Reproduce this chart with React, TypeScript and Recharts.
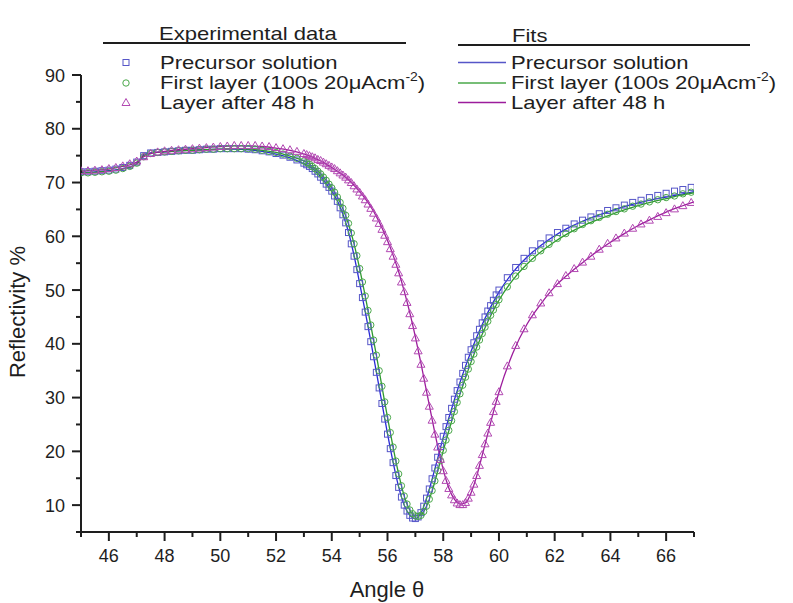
import React from "react";
import { ComposedChart, Scatter, Line, XAxis, YAxis } from "recharts";

// measured angles (deg) shared by the three experimental scans
const ANGLES = [
  45, 45.25, 45.5, 45.75, 46, 46.25, 46.5, 46.75, 47, 47.25, 47.5, 47.75, 48, 48.25, 48.5, 48.75,
  49, 49.25, 49.5, 49.75, 50, 50.25, 50.5, 50.75, 51, 51.25, 51.5, 51.75, 52, 52.25, 52.5, 52.75, 53,
  53.1, 53.2, 53.3, 53.4, 53.5, 53.6, 53.7, 53.8, 53.9, 54,
  54.1, 54.2, 54.3, 54.4, 54.5, 54.6, 54.7, 54.8, 54.9, 55,
  55.1, 55.2, 55.3, 55.4, 55.5, 55.6, 55.7, 55.8, 55.9, 56,
  56.1, 56.2, 56.3, 56.4, 56.5, 56.6, 56.7, 56.8, 56.9, 57,
  57.1, 57.2, 57.3, 57.4, 57.5, 57.6, 57.7, 57.8, 57.9, 58,
  58.1, 58.2, 58.3, 58.4, 58.5, 58.6, 58.7, 58.8, 58.9, 59,
  59.1, 59.2, 59.3, 59.4, 59.5, 59.6, 59.7, 59.8, 59.9, 60,
  60.3, 60.6, 60.9, 61.2, 61.5, 61.8, 62.1, 62.4, 62.7, 63, 63.3, 63.6, 63.9, 64.2, 64.5, 64.8,
  65.1, 65.4, 65.7, 66, 66.3, 66.6, 66.9,
];

const PRECURSOR = [
  72.0, 72.0, 72.1, 72.2, 72.3, 72.5, 72.8, 73.2, 73.8, 75.0, 75.5, 75.6, 75.7, 75.8, 75.9, 76.0,
  76.0, 76.1, 76.2, 76.2, 76.3, 76.3, 76.3, 76.3, 76.2, 76.1, 75.9, 75.7, 75.4, 75.1, 74.7, 74.2, 73.6,
  73.3, 73.0, 72.6, 72.1, 71.6, 71.0, 70.4, 69.7, 69.1, 68.4,
  67.5, 66.5, 65.3, 64.0, 62.5, 60.7, 58.6, 56.3, 53.8, 51.2,
  48.6, 45.9, 43.2, 40.4, 37.6, 34.7, 31.8, 28.9, 26.0, 23.2,
  20.5, 17.9, 15.5, 13.3, 11.5, 10.0, 8.9, 8.1, 7.6, 7.5,
  7.8, 8.6, 9.8, 11.3, 13.0, 14.9, 16.9, 18.9, 20.9, 22.8,
  24.6, 26.3, 28.0, 29.7, 31.3, 32.9, 34.5, 36.0, 37.5, 38.9,
  40.2, 41.5, 42.7, 43.9, 45.0, 46.1, 47.1, 48.1, 49.1, 50.0,
  52.3, 54.2, 55.9, 57.3, 58.6, 59.7, 60.7, 61.5, 62.3, 63.0, 63.6, 64.2, 64.8, 65.3, 65.8, 66.3,
  66.7, 67.2, 67.6, 68.0, 68.4, 68.7, 69.1,
];

const FIRST_LAYER = [
  71.8, 71.8, 71.9, 72.0, 72.1, 72.3, 72.6, 73.0, 73.6, 74.8, 75.4, 75.6, 75.7, 75.8, 75.9, 76.0,
  76.0, 76.1, 76.2, 76.2, 76.3, 76.3, 76.3, 76.3, 76.3, 76.2, 76.0, 75.8, 75.6, 75.3, 74.9, 74.5, 74.0,
  73.7, 73.4, 73.0, 72.6, 72.1, 71.6, 71.0, 70.4, 69.7, 69.0,
  68.2, 67.3, 66.3, 65.2, 63.9, 62.4, 60.6, 58.6, 56.4, 54.0,
  51.5, 48.9, 46.2, 43.5, 40.7, 37.9, 35.0, 32.1, 29.2, 26.3,
  23.5, 20.8, 18.2, 15.8, 13.6, 11.7, 10.2, 9.1, 8.4, 8.0,
  7.9, 8.1, 8.8, 9.8, 11.1, 12.7, 14.5, 16.4, 18.3, 20.2,
  22.1, 23.9, 25.7, 27.4, 29.1, 30.7, 32.3, 33.8, 35.3, 36.7,
  38.1, 39.4, 40.7, 41.9, 43.1, 44.2, 45.3, 46.3, 47.3, 48.2,
  50.6, 52.6, 54.4, 55.9, 57.3, 58.5, 59.6, 60.5, 61.4, 62.2, 62.9, 63.5, 64.1, 64.6, 65.1, 65.6,
  66.0, 66.4, 66.8, 67.2, 67.5, 67.9, 68.2,
];

const AFTER_48H = [
  72.2, 72.2, 72.3, 72.4, 72.6, 72.8, 73.1, 73.5, 74.0, 74.8, 75.4, 75.7, 75.9, 76.0, 76.1, 76.2,
  76.3, 76.4, 76.5, 76.6, 76.7, 76.8, 76.9, 76.9, 76.9, 76.9, 76.8, 76.7, 76.5, 76.3, 76.1, 75.8, 75.4,
  75.2, 75.0, 74.8, 74.6, 74.3, 74.1, 73.8, 73.5, 73.2, 72.9,
  72.6, 72.2, 71.8, 71.4, 71.0, 70.5, 70.0, 69.4, 68.8, 68.2,
  67.5, 66.8, 66.0, 65.2, 64.3, 63.4, 62.4, 61.3, 60.2, 59.0,
  57.7, 56.3, 54.8, 53.2, 51.5, 49.7, 47.7, 45.6, 43.4, 41.1,
  38.7, 36.2, 33.6, 31.0, 28.4, 25.8, 23.2, 20.8, 18.5, 16.4,
  14.6, 13.1, 11.9, 11.0, 10.4, 10.1, 10.1, 10.5, 11.3, 12.4,
  13.9, 15.5, 17.4, 19.4, 21.4, 23.4, 25.4, 27.4, 29.3, 31.1,
  35.9, 39.7, 42.8, 45.4, 47.6, 49.5, 51.2, 52.7, 54.0, 55.2, 56.3, 57.6, 58.7, 59.7, 60.6, 61.5,
  62.3, 63.0, 63.7, 64.4, 65.1, 65.7, 66.3,
];

// fitted curves
const FIT_ANGLES = [
  45, 45.5, 46, 46.5, 47, 47.25, 47.5, 48, 48.5, 49, 49.5, 50, 50.5, 51, 51.5, 52, 52.5, 53,
  53.2, 53.4, 53.6, 53.8, 54, 54.2, 54.4, 54.6, 54.8, 55, 55.2, 55.4, 55.6, 55.8, 56,
  56.2, 56.4, 56.6, 56.8, 57, 57.2, 57.4, 57.6, 57.8, 58, 58.2, 58.4, 58.6, 58.8, 59,
  59.2, 59.4, 59.6, 59.8, 60,
  60.5, 61, 61.5, 62, 62.5, 63, 63.5, 64, 64.5, 65, 65.5, 66, 66.5, 67,
];

const FIT_PRECURSOR = [
  71.9, 72.0, 72.2, 72.6, 73.5, 75.2, 75.5, 75.7, 75.9, 76.0, 76.1, 76.2, 76.2, 76.1, 75.8, 75.3, 74.6, 73.5,
  73.0, 72.2, 71.1, 69.8, 68.4, 66.6, 64.1, 60.8, 56.4, 51.3, 46.0, 40.5, 34.8, 29.0, 23.3,
  18.0, 13.4, 10.0, 8.1, 7.5, 8.5, 11.2, 14.8, 18.7, 22.6, 26.2, 29.6, 32.8, 35.8, 38.6,
  41.2, 43.6, 45.8, 47.8, 49.6,
  53.3, 56.1, 58.3, 60.1, 61.6, 62.8, 63.8, 64.7, 65.5, 66.2, 66.8, 67.3, 67.8, 68.3,
];

const FIT_FIRST_LAYER = [
  71.8, 71.9, 72.1, 72.5, 73.4, 75.0, 75.4, 75.7, 75.9, 76.0, 76.1, 76.2, 76.3, 76.2, 76.0, 75.6, 74.9, 74.0,
  73.4, 72.6, 71.6, 70.4, 69.0, 67.3, 65.1, 62.3, 58.6, 54.0, 48.9, 43.5, 37.9, 32.1, 26.3,
  20.8, 15.8, 11.7, 9.1, 8.0, 8.2, 9.8, 12.6, 16.3, 20.1, 23.8, 27.3, 30.6, 33.7, 36.6,
  39.3, 41.8, 44.1, 46.2, 48.1,
  51.9, 54.8, 57.1, 59.0, 60.6, 61.9, 63.0, 64.0, 64.9, 65.7, 66.4, 67.0, 67.6, 68.1,
];

const FIT_AFTER_48H = [
  72.1, 72.3, 72.5, 73.0, 73.8, 74.8, 75.4, 75.8, 76.1, 76.3, 76.5, 76.7, 76.8, 76.8, 76.7, 76.4, 76.0, 75.3,
  74.9, 74.5, 74.0, 73.4, 72.8, 72.1, 71.4, 70.5, 69.5, 68.3, 67.0, 65.5, 63.7, 61.6, 59.2,
  56.5, 53.4, 49.8, 45.8, 41.3, 36.4, 31.2, 26.0, 21.0, 16.6, 13.2, 11.1, 10.2, 10.4, 12.3,
  15.4, 19.3, 23.3, 27.3, 31.0,
  38.3, 43.6, 47.4, 50.6, 53.0, 55.1, 57.1, 58.9, 60.5, 62.0, 63.3, 64.5, 65.5, 66.4,
];

const X_TICKS = [45, 46, 47, 48, 49, 50, 51, 52, 53, 54, 55, 56, 57, 58, 59, 60, 61, 62, 63, 64, 65, 66, 67];
const Y_TICKS = [5, 10, 15, 20, 25, 30, 35, 40, 45, 50, 55, 60, 65, 70, 75, 80, 85, 90];

const BLUE_MK = "#5656c8";
const GREEN_MK = "#4aa84a";
const PURPLE_MK = "#b248b2";
const BLUE = "#2a2ad6";
const GREEN = "#2f9a2f";
const PURPLE = "#9c1c9c";
const INK = "#1e1e1e";
const FONT = '"Liberation Sans", Arial, sans-serif';

const pts = (xs: number[], ys: number[]) => xs.map((x, i) => ({ x, y: ys[i] }));

const Square = (p: any) => (
  <rect x={p.cx - 3} y={p.cy - 3} width={6} height={6} fill="none" stroke={BLUE_MK} strokeWidth={1} />
);
const Ring = (p: any) => (
  <circle cx={p.cx} cy={p.cy} r={3.2} fill="none" stroke={GREEN_MK} strokeWidth={1} />
);
const Tri = (p: any) => (
  <path
    d={`M${p.cx},${p.cy - 4} L${p.cx + 4},${p.cy + 3} L${p.cx - 4},${p.cy + 3} Z`}
    fill="none"
    stroke={PURPLE_MK}
    strokeWidth={1}
  />
);

const XTick = ({ x, y, payload }: any) => {
  const major = payload.value % 2 === 0;
  return (
    <g>
      <line x1={x} x2={x} y1={y} y2={y + (major ? 9 : 5)} stroke={INK} strokeWidth={2} />
      {major && (
        <text x={x} y={y + 30} textAnchor="middle" fontSize={18} fontFamily={FONT} fill={INK}>
          {payload.value}
        </text>
      )}
    </g>
  );
};

const YTick = ({ x, y, payload }: any) => {
  const major = payload.value % 10 === 0;
  return (
    <g>
      <line x1={x - (major ? 9 : 5)} x2={x} y1={y} y2={y} stroke={INK} strokeWidth={2} />
      {major && (
        <text x={x - 16} y={y + 6.5} textAnchor="end" fontSize={18} fontFamily={FONT} fill={INK}>
          {payload.value}
        </text>
      )}
    </g>
  );
};

const Sup = () => (
  <span style={{ fontSize: 12, position: "relative", top: -8 }}>-2</span>
);

const legendText: React.CSSProperties = {
  position: "absolute",
  fontSize: 19,
  fontFamily: FONT,
  color: INK,
  whiteSpace: "nowrap",
  lineHeight: "20px",
  transform: "scaleX(1.16)",
  transformOrigin: "left center",
};

const axisTitle: React.CSSProperties = {
  position: "absolute",
  fontSize: 22,
  fontFamily: FONT,
  color: INK,
  whiteSpace: "nowrap",
  lineHeight: "24px",
};

const ROWS = [62.5, 83, 102.5];

export default function App() {
  return (
    <div style={{ position: "absolute", left: 0, top: 0, width: 793, height: 603, background: "#fff" }}>
      <ComposedChart width={793} height={603} margin={{ top: 75, right: 99, bottom: 11, left: 0 }}>
        <XAxis
          type="number"
          dataKey="x"
          domain={[45, 67]}
          ticks={X_TICKS}
          interval={0}
          tick={<XTick />}
          tickLine={false}
          tickSize={0}
          tickMargin={0}
          height={60}
          axisLine={{ stroke: INK, strokeWidth: 2 }}
          allowDataOverflow
        />
        <YAxis
          type="number"
          dataKey="y"
          domain={[5, 90]}
          ticks={Y_TICKS}
          interval={0}
          tick={<YTick />}
          tickLine={false}
          tickSize={0}
          tickMargin={0}
          width={81}
          axisLine={{ stroke: INK, strokeWidth: 2 }}
          allowDataOverflow
        />
        <Scatter data={pts(ANGLES, PRECURSOR)} dataKey="y" shape={Square} isAnimationActive={false} />
        <Scatter data={pts(ANGLES, FIRST_LAYER)} dataKey="y" shape={Ring} isAnimationActive={false} />
        <Scatter data={pts(ANGLES, AFTER_48H)} dataKey="y" shape={Tri} isAnimationActive={false} />
        <Line data={pts(FIT_ANGLES, FIT_PRECURSOR)} dataKey="y" type="monotone" stroke={BLUE} strokeWidth={1.3} dot={false} isAnimationActive={false} />
        <Line data={pts(FIT_ANGLES, FIT_FIRST_LAYER)} dataKey="y" type="monotone" stroke={GREEN} strokeWidth={1.3} dot={false} isAnimationActive={false} />
        <Line data={pts(FIT_ANGLES, FIT_AFTER_48H)} dataKey="y" type="monotone" stroke={PURPLE} strokeWidth={1.3} dot={false} isAnimationActive={false} />
      </ComposedChart>

      {/* axis titles */}
      <div style={{ ...axisTitle, left: 387, top: 578, transform: "translateX(-50%)" }}>
        Angle θ
      </div>
      <div
        style={{
          ...axisTitle,
          left: 18,
          top: 312,
          transform: "translate(-50%, -50%) rotate(-90deg)",
        }}
      >
        Reflectivity %
      </div>

      {/* legend: experimental data */}
      <div style={{ ...legendText, left: 159, top: 24 }}>Experimental data</div>
      <div style={{ position: "absolute", left: 103, top: 42, width: 303, height: 1.5, background: INK }} />
      <svg style={{ position: "absolute", left: 0, top: 0 }} width={793} height={140}>
        <Square cx={126} cy={ROWS[0]} />
        <Ring cx={126} cy={ROWS[1]} />
        <Tri cx={126} cy={ROWS[2]} />
        <line x1={458} x2={506} y1={ROWS[0]} y2={ROWS[0]} stroke={BLUE_MK} strokeWidth={1.5} />
        <line x1={458} x2={506} y1={ROWS[1]} y2={ROWS[1]} stroke={GREEN_MK} strokeWidth={1.5} />
        <line x1={458} x2={506} y1={ROWS[2]} y2={ROWS[2]} stroke={PURPLE} strokeWidth={1.5} />
      </svg>
      <div style={{ ...legendText, left: 160, top: ROWS[0] - 10 }}>Precursor solution</div>
      <div style={{ ...legendText, left: 160, top: ROWS[1] - 10 }}>
        First layer (100s 20μAcm<Sup />)
      </div>
      <div style={{ ...legendText, left: 160, top: ROWS[2] - 10 }}>Layer after 48 h</div>

      {/* legend: fits */}
      <div style={{ ...legendText, left: 512, top: 26 }}>Fits</div>
      <div style={{ position: "absolute", left: 458, top: 44, width: 292, height: 1.5, background: INK }} />
      <div style={{ ...legendText, left: 511, top: ROWS[0] - 10 }}>Precursor solution</div>
      <div style={{ ...legendText, left: 511, top: ROWS[1] - 10 }}>
        First layer (100s 20μAcm<Sup />)
      </div>
      <div style={{ ...legendText, left: 511, top: ROWS[2] - 10 }}>Layer after 48 h</div>
    </div>
  );
}
